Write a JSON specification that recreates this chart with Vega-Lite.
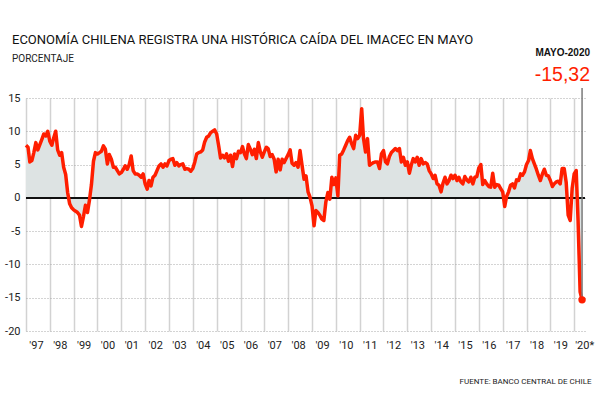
{
  "$schema": "https://vega.github.io/schema/vega-lite/v6.json",
  "width": 559,
  "height": 233,
  "autosize": {"type": "none"},
  "padding": {"left": 26, "top": 98, "right": 15, "bottom": 69},
  "background": "white",
  "config": {
    "view": {"stroke": null},
    "font": "Roboto",
    "axisY": {"tickCount": 8, "labelOverlap": false, "labelFlush": false}
  },
  "title": {
    "text": "ECONOMÍA CHILENA REGISTRA UNA HISTÓRICA CAÍDA DEL IMACEC EN MAYO",
    "subtitle": "PORCENTAJE",
    "anchor": "start",
    "frame": "group",
    "dx": -14,
    "offset": -16,
    "font": "Roboto",
    "fontSize": 13,
    "fontWeight": "normal",
    "color": "#111111",
    "subtitleFont": "Roboto",
    "subtitleFontSize": 10,
    "subtitleColor": "#222222",
    "subtitlePadding": 7
  },
  "data": {"values": [
    {"d":"1997-01","v":7.9},{"d":"1997-02","v":7.6},{"d":"1997-03","v":5.4},{"d":"1997-04","v":5.6},{"d":"1997-05","v":6.8},{"d":"1997-06","v":8.3},{"d":"1997-07","v":7.2},{"d":"1997-08","v":8.0},{"d":"1997-09","v":8.8},{"d":"1997-10","v":9.6},{"d":"1997-11","v":9.3},{"d":"1997-12","v":10.0},
    {"d":"1998-01","v":8.5},{"d":"1998-02","v":7.9},{"d":"1998-03","v":9.0},{"d":"1998-04","v":10.0},{"d":"1998-05","v":7.2},{"d":"1998-06","v":6.4},{"d":"1998-07","v":6.8},{"d":"1998-08","v":4.6},{"d":"1998-09","v":3.5},{"d":"1998-10","v":0.8},{"d":"1998-11","v":-0.9},{"d":"1998-12","v":-1.5},
    {"d":"1999-01","v":-1.8},{"d":"1999-02","v":-2.0},{"d":"1999-03","v":-2.2},{"d":"1999-04","v":-2.6},{"d":"1999-05","v":-4.3},{"d":"1999-06","v":-2.8},{"d":"1999-07","v":-1.1},{"d":"1999-08","v":-2.2},{"d":"1999-09","v":-0.3},{"d":"1999-10","v":2.0},{"d":"1999-11","v":5.5},{"d":"1999-12","v":6.8},
    {"d":"2000-01","v":6.6},{"d":"2000-02","v":6.8},{"d":"2000-03","v":7.0},{"d":"2000-04","v":7.8},{"d":"2000-05","v":7.3},{"d":"2000-06","v":5.1},{"d":"2000-07","v":6.5},{"d":"2000-08","v":5.8},{"d":"2000-09","v":4.6},{"d":"2000-10","v":4.6},{"d":"2000-11","v":4.1},{"d":"2000-12","v":3.6},
    {"d":"2001-01","v":3.8},{"d":"2001-02","v":4.3},{"d":"2001-03","v":4.8},{"d":"2001-04","v":4.3},{"d":"2001-05","v":5.0},{"d":"2001-06","v":6.3},{"d":"2001-07","v":4.1},{"d":"2001-08","v":3.6},{"d":"2001-09","v":3.6},{"d":"2001-10","v":3.4},{"d":"2001-11","v":3.1},{"d":"2001-12","v":3.6},
    {"d":"2002-01","v":2.1},{"d":"2002-02","v":1.3},{"d":"2002-03","v":2.6},{"d":"2002-04","v":1.8},{"d":"2002-05","v":3.1},{"d":"2002-06","v":3.4},{"d":"2002-07","v":4.1},{"d":"2002-08","v":4.8},{"d":"2002-09","v":5.1},{"d":"2002-10","v":4.6},{"d":"2002-11","v":5.1},{"d":"2002-12","v":4.8},
    {"d":"2003-01","v":5.6},{"d":"2003-02","v":5.8},{"d":"2003-03","v":5.9},{"d":"2003-04","v":4.9},{"d":"2003-05","v":5.3},{"d":"2003-06","v":4.8},{"d":"2003-07","v":5.0},{"d":"2003-08","v":5.1},{"d":"2003-09","v":4.3},{"d":"2003-10","v":4.4},{"d":"2003-11","v":4.3},{"d":"2003-12","v":4.0},
    {"d":"2004-01","v":4.4},{"d":"2004-02","v":5.4},{"d":"2004-03","v":6.6},{"d":"2004-04","v":6.8},{"d":"2004-05","v":6.9},{"d":"2004-06","v":7.2},{"d":"2004-07","v":8.4},{"d":"2004-08","v":9.1},{"d":"2004-09","v":9.3},{"d":"2004-10","v":9.8},{"d":"2004-11","v":10.0},{"d":"2004-12","v":10.2},
    {"d":"2005-01","v":9.6},{"d":"2005-02","v":7.8},{"d":"2005-03","v":6.0},{"d":"2005-04","v":6.4},{"d":"2005-05","v":6.0},{"d":"2005-06","v":6.6},{"d":"2005-07","v":5.5},{"d":"2005-08","v":6.4},{"d":"2005-09","v":4.7},{"d":"2005-10","v":6.6},{"d":"2005-11","v":5.9},{"d":"2005-12","v":7.0},
    {"d":"2006-01","v":6.8},{"d":"2006-02","v":7.7},{"d":"2006-03","v":6.6},{"d":"2006-04","v":5.9},{"d":"2006-05","v":8.0},{"d":"2006-06","v":7.3},{"d":"2006-07","v":6.5},{"d":"2006-08","v":7.3},{"d":"2006-09","v":5.9},{"d":"2006-10","v":8.3},{"d":"2006-11","v":6.9},{"d":"2006-12","v":6.1},
    {"d":"2007-01","v":6.9},{"d":"2007-02","v":7.6},{"d":"2007-03","v":7.4},{"d":"2007-04","v":6.2},{"d":"2007-05","v":6.5},{"d":"2007-06","v":5.8},{"d":"2007-07","v":3.9},{"d":"2007-08","v":5.8},{"d":"2007-09","v":4.2},{"d":"2007-10","v":5.8},{"d":"2007-11","v":5.3},{"d":"2007-12","v":5.9},
    {"d":"2008-01","v":6.5},{"d":"2008-02","v":7.2},{"d":"2008-03","v":5.2},{"d":"2008-04","v":4.9},{"d":"2008-05","v":5.3},{"d":"2008-06","v":4.6},{"d":"2008-07","v":7.1},{"d":"2008-08","v":4.9},{"d":"2008-09","v":2.8},{"d":"2008-10","v":3.3},{"d":"2008-11","v":0.9},{"d":"2008-12","v":0.1},
    {"d":"2009-01","v":-1.2},{"d":"2009-02","v":-4.2},{"d":"2009-03","v":-1.9},{"d":"2009-04","v":-2.2},{"d":"2009-05","v":-2.6},{"d":"2009-06","v":-3.2},{"d":"2009-07","v":-3.4},{"d":"2009-08","v":-0.6},{"d":"2009-09","v":0.8},{"d":"2009-10","v":-0.2},{"d":"2009-11","v":3.1},{"d":"2009-12","v":2.0},
    {"d":"2010-01","v":3.0},{"d":"2010-02","v":0.3},{"d":"2010-03","v":6.4},{"d":"2010-04","v":6.6},{"d":"2010-05","v":7.2},{"d":"2010-06","v":7.9},{"d":"2010-07","v":8.6},{"d":"2010-08","v":9.1},{"d":"2010-09","v":8.1},{"d":"2010-10","v":7.4},{"d":"2010-11","v":9.4},{"d":"2010-12","v":8.9},
    {"d":"2011-01","v":9.4},{"d":"2011-02","v":13.4},{"d":"2011-03","v":8.9},{"d":"2011-04","v":6.9},{"d":"2011-05","v":8.9},{"d":"2011-06","v":4.9},{"d":"2011-07","v":5.1},{"d":"2011-08","v":5.3},{"d":"2011-09","v":5.4},{"d":"2011-10","v":5.4},{"d":"2011-11","v":4.4},{"d":"2011-12","v":6.6},
    {"d":"2012-01","v":7.1},{"d":"2012-02","v":5.4},{"d":"2012-03","v":5.1},{"d":"2012-04","v":6.2},{"d":"2012-05","v":6.8},{"d":"2012-06","v":7.1},{"d":"2012-07","v":7.4},{"d":"2012-08","v":7.1},{"d":"2012-09","v":7.4},{"d":"2012-10","v":5.4},{"d":"2012-11","v":6.1},{"d":"2012-12","v":4.9},
    {"d":"2013-01","v":5.4},{"d":"2013-02","v":3.7},{"d":"2013-03","v":4.9},{"d":"2013-04","v":5.9},{"d":"2013-05","v":5.4},{"d":"2013-06","v":6.1},{"d":"2013-07","v":4.9},{"d":"2013-08","v":5.9},{"d":"2013-09","v":5.1},{"d":"2013-10","v":5.3},{"d":"2013-11","v":5.1},{"d":"2013-12","v":4.1},
    {"d":"2014-01","v":3.6},{"d":"2014-02","v":2.9},{"d":"2014-03","v":3.4},{"d":"2014-04","v":2.1},{"d":"2014-05","v":1.9},{"d":"2014-06","v":0.9},{"d":"2014-07","v":2.2},{"d":"2014-08","v":3.1},{"d":"2014-09","v":2.1},{"d":"2014-10","v":2.6},{"d":"2014-11","v":3.4},{"d":"2014-12","v":2.9},
    {"d":"2015-01","v":3.4},{"d":"2015-02","v":2.6},{"d":"2015-03","v":3.1},{"d":"2015-04","v":2.4},{"d":"2015-05","v":2.1},{"d":"2015-06","v":3.2},{"d":"2015-07","v":2.7},{"d":"2015-08","v":2.4},{"d":"2015-09","v":3.1},{"d":"2015-10","v":2.1},{"d":"2015-11","v":3.1},{"d":"2015-12","v":3.2},
    {"d":"2016-01","v":4.5},{"d":"2016-02","v":5.0},{"d":"2016-03","v":2.0},{"d":"2016-04","v":2.6},{"d":"2016-05","v":2.1},{"d":"2016-06","v":1.7},{"d":"2016-07","v":1.6},{"d":"2016-08","v":3.7},{"d":"2016-09","v":1.6},{"d":"2016-10","v":2.0},{"d":"2016-11","v":1.9},{"d":"2016-12","v":1.4},
    {"d":"2017-01","v":0.9},{"d":"2017-02","v":-1.3},{"d":"2017-03","v":0.2},{"d":"2017-04","v":0.9},{"d":"2017-05","v":1.9},{"d":"2017-06","v":2.1},{"d":"2017-07","v":1.5},{"d":"2017-08","v":2.7},{"d":"2017-09","v":2.6},{"d":"2017-10","v":3.6},{"d":"2017-11","v":3.4},{"d":"2017-12","v":3.9},
    {"d":"2018-01","v":5.0},{"d":"2018-02","v":5.6},{"d":"2018-03","v":7.1},{"d":"2018-04","v":5.9},{"d":"2018-05","v":5.1},{"d":"2018-06","v":4.3},{"d":"2018-07","v":3.4},{"d":"2018-08","v":2.6},{"d":"2018-09","v":3.6},{"d":"2018-10","v":4.3},{"d":"2018-11","v":3.4},{"d":"2018-12","v":3.3},
    {"d":"2019-01","v":2.6},{"d":"2019-02","v":1.7},{"d":"2019-03","v":2.1},{"d":"2019-04","v":2.4},{"d":"2019-05","v":2.5},{"d":"2019-06","v":2.1},{"d":"2019-07","v":4.4},{"d":"2019-08","v":4.4},{"d":"2019-09","v":2.3},{"d":"2019-10","v":-2.6},{"d":"2019-11","v":-3.4},{"d":"2019-12","v":1.4},
    {"d":"2020-01","v":3.6},{"d":"2020-02","v":4.1},{"d":"2020-03","v":-3.5},{"d":"2020-04","v":-14.1},{"d":"2020-05","v":-15.32}
  ]},
  "layer": [
    {
      "mark": {"type": "area", "color": "#dde3e3", "opacity": 1},
      "encoding": {
        "x": {
          "field": "d", "type": "temporal",
          "scale": {"type": "utc", "domain": [{"year": 1997, "month": 1, "date": 1, "utc": true}, {"year": 2020, "month": 6, "date": 15, "utc": true}]},
          "axis": {
            "tickCount": {"interval": "year", "step": 1},
            "labelExpr": "\"'\" + utcFormat(datum.value, '%y') + (utcyear(datum.value) == 2020 ? '*' : '')",
            "labelOffset": 10,
            "labelFlush": false,
            "labelOverlap": false,
            "labelAlign": "center",
            "labelPadding": 8,
            "labelFont": "Roboto",
            "labelFontSize": 11,
            "labelColor": "#222222",
            "grid": true,
            "gridColor": "#d2d2d2",
            "gridWidth": 1.5,
            "domain": false,
            "ticks": false,
            "title": "FUENTE: BANCO CENTRAL DE CHILE",
            "titleX": 565,
            "titleY": 52,
            "titleAlign": "right",
            "titleBaseline": "alphabetic",
            "titleFont": "Roboto",
            "titleFontSize": 8,
            "titleFontWeight": "normal",
            "titleColor": "#222222"
          }
        },
        "y": {
          "field": "v", "type": "quantitative",
          "scale": {"domain": [-20, 15], "nice": false, "zero": false},
          "axis": {
            "values": [-20, -15, -10, -5, 0, 5, 10, 15],
            "tickCount": 8,
            "labelExpr": "'' + datum.value",
            "labelOverlap": false,
            "labelFlush": false,
            "title": null,
            "domain": false,
            "ticks": false,
            "labelPadding": 6,
            "labelFont": "Roboto",
            "labelFontSize": 11,
            "labelColor": "#222222",
            "grid": true,
            "gridColor": "#a8a8a8",
            "gridDash": [1, 2],
            "gridWidth": 1
          }
        },
        "y2": {"datum": 0}
      }
    },
    {
      "mark": {"type": "rule", "color": "#111111", "strokeWidth": 1.5},
      "encoding": {"y": {"datum": 0}}
    },
    {
      "mark": {"type": "line", "color": "#ff1e00", "strokeWidth": 3.5, "strokeJoin": "round"},
      "encoding": {
        "x": {"field": "d", "type": "temporal"},
        "y": {"field": "v", "type": "quantitative"}
      }
    },
    {
      "transform": [{"filter": "utcyear(datum.d) == 2020 && utcmonth(datum.d) == 4"}],
      "mark": {"type": "rule", "color": "#7a7a7a", "strokeWidth": 1.5},
      "encoding": {
        "x": {"field": "d", "type": "temporal"},
        "y": {"field": "v", "type": "quantitative"},
        "y2": {"datum": 16.5}
      }
    },
    {
      "transform": [{"filter": "utcyear(datum.d) == 2020 && utcmonth(datum.d) == 4"}],
      "mark": {"type": "circle", "color": "#ff1e00", "size": 55, "opacity": 1},
      "encoding": {
        "x": {"field": "d", "type": "temporal"},
        "y": {"field": "v", "type": "quantitative"}
      }
    },
    {
      "transform": [{"filter": "utcyear(datum.d) == 2020 && utcmonth(datum.d) == 4"}],
      "mark": {"type": "text", "align": "right", "baseline": "alphabetic", "dx": 8, "dy": -219, "font": "Liberation Sans", "fontSize": 19.5, "color": "#ff1e00"},
      "encoding": {
        "x": {"field": "d", "type": "temporal"},
        "y": {"field": "v", "type": "quantitative"},
        "text": {"value": "-15,32"}
      }
    },
    {
      "transform": [{"filter": "utcyear(datum.d) == 2020 && utcmonth(datum.d) == 4"}],
      "mark": {"type": "text", "align": "right", "baseline": "alphabetic", "dx": 8, "dy": -244, "font": "Liberation Sans", "fontSize": 10, "fontWeight": "bold", "color": "#111111"},
      "encoding": {
        "x": {"field": "d", "type": "temporal"},
        "y": {"field": "v", "type": "quantitative"},
        "text": {"value": "MAYO-2020"}
      }
    }
  ]
}
